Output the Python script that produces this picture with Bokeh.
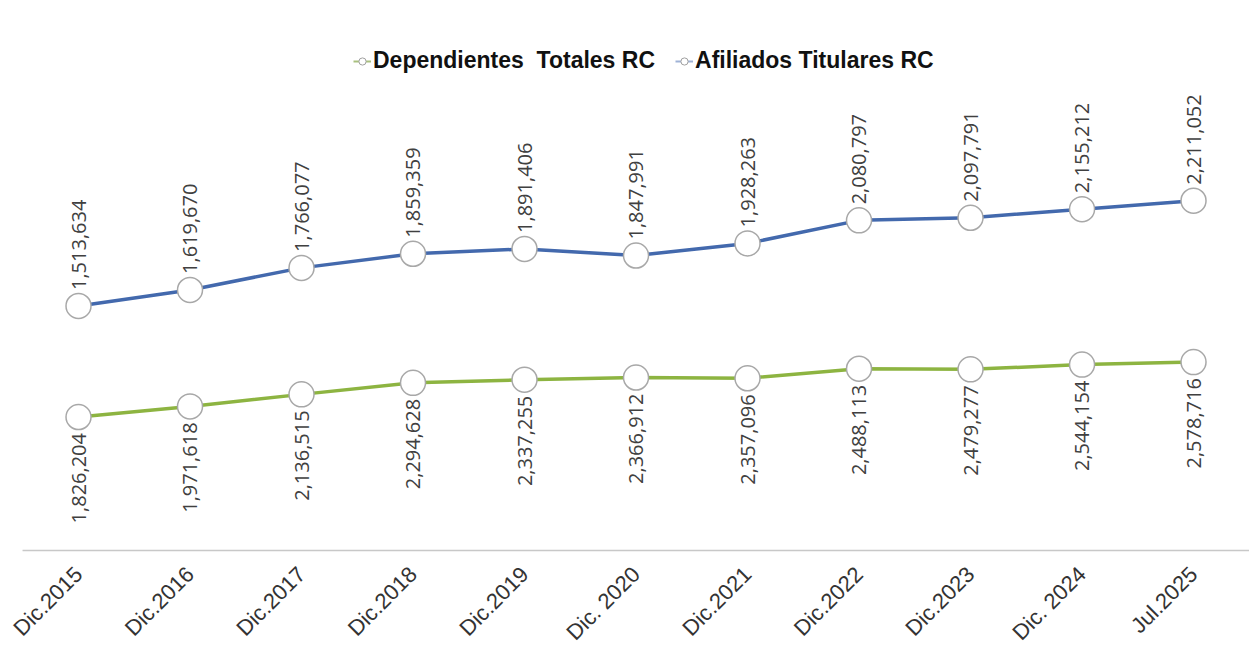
from math import pi
from bokeh.plotting import figure
from bokeh.models import (ColumnDataSource, Range1d, FixedTicker, Legend, LegendItem)
from bokeh.core.properties import value
from bokeh.embed import file_html
from bokeh.resources import INLINE

# ---- data ----
periods = ["Dic.2015", "Dic.2016", "Dic.2017", "Dic.2018", "Dic.2019", "Dic. 2020",
           "Dic.2021", "Dic.2022", "Dic.2023", "Dic. 2024", "Jul.2025"]
titulares = [1513634, 1619670, 1766077, 1859359, 1891406, 1847991,
             1928263, 2080797, 2097791, 2155212, 2211052]
dependientes = [1826204, 1971618, 2136515, 2294628, 2337255, 2366912,
                2357096, 2488113, 2479277, 2544154, 2578716]
series_names = ["Dependientes  Totales RC", "Afiliados Titulares RC"]

idx = list(range(len(periods)))
fmt = lambda v: f"{v:,}"

src_t = ColumnDataSource(dict(x=idx, y=titulares, lab=[fmt(v) for v in titulares]))
src_d = ColumnDataSource(dict(x=idx, y=dependientes, lab=[fmt(v) for v in dependientes]))

BLUE = "#4369ad"
GREEN = "#8db441"
LABEL_COLOR = "#404040"

XR = Range1d(-0.6996, 10.502)
YB = Range1d(-741888, 3338496)    # scale of Afiliados Titulares
YG = Range1d(-1318132, 7122300)   # scale of Dependientes
AXIS_BASE = -105984               # where the category axis sits (on the YB scale)
AXIS_X0, AXIS_X1 = -0.502, 10.502 # horizontal extent of the axis rule

p = figure(width=1249, height=646, output_backend="svg", toolbar_location=None,
           x_range=XR, y_range=YB,
           y_axis_location=None, min_border_left=0, min_border_right=0,
           min_border_top=30, min_border_bottom=0)
p.extra_y_ranges = {"g": YG}
p.outline_line_color = None
p.background_fill_color = "white"
p.border_fill_color = "white"
p.xgrid.visible = False
p.ygrid.visible = False

# category axis (labels only; its rule is drawn below with the chart's extent)
ax = p.xaxis[0]
ax.fixed_location = AXIS_BASE
ax.ticker = FixedTicker(ticks=idx)
ax.major_label_overrides = {i: s for i, s in zip(idx, periods)}
ax.major_label_orientation = pi / 4
ax.major_label_text_font = "Liberation Sans"
ax.major_label_text_font_size = "22px"
ax.major_label_text_color = "#333333"
ax.major_label_standoff = 14
ax.major_tick_line_color = None
ax.minor_tick_line_color = None
ax.axis_line_color = None

p.segment(x0=[AXIS_X0], y0=[AXIS_BASE], x1=[AXIS_X1], y1=[AXIS_BASE],
          line_color="#c8c8c8", line_width=1.5)

# lines
p.line("x", "y", source=src_t, line_color=BLUE, line_width=3.5)
p.line("x", "y", source=src_d, line_color=GREEN, line_width=3.5, y_range_name="g")

p.scatter("x", "y", source=src_t, size=25, fill_color="white",
          line_color="#a8a8a8", line_width=1.5)
p.scatter("x", "y", source=src_d, size=25, fill_color="white",
          line_color="#a8a8a8", line_width=1.5, y_range_name="g")

# data labels
p.text("x", "y", text="lab", source=src_t, angle=pi / 2, text_align="left",
       text_baseline="middle", y_offset=-16, text_font=value("Open Sans"),
       text_font_size="20px", text_color=LABEL_COLOR)
p.text("x", "y", text="lab", source=src_d, angle=pi / 2, text_align="right",
       text_baseline="middle", y_offset=16, text_font=value("Open Sans"),
       text_font_size="20px", text_color=LABEL_COLOR, y_range_name="g")

# legend (dummy renderers outside the visible range, for small icons)
lg_line_d = p.line(x=[-100, -99], y=[-1e9, -1e9], line_color="#a9c07e", line_width=2)
lg_dot_d = p.scatter(x=[-100], y=[-1e9], size=9, fill_color="white", line_color="#a0a0a0")
lg_line_t = p.line(x=[-100, -99], y=[-1e9, -1e9], line_color="#9fb2d6", line_width=2)
lg_dot_t = p.scatter(x=[-100], y=[-1e9], size=9, fill_color="white", line_color="#a0a0a0")

legend = Legend(items=[LegendItem(label=series_names[0], renderers=[lg_line_d, lg_dot_d]),
                       LegendItem(label=series_names[1], renderers=[lg_line_t, lg_dot_t])],
                orientation="horizontal", location=(353, 572))
legend.label_text_font = "Liberation Sans"
legend.label_text_font_style = "bold"
legend.label_text_font_size = "23px"
legend.label_text_color = "#111111"
legend.glyph_width = 18
legend.glyph_height = 20
legend.label_standoff = 2
legend.spacing = 20
legend.padding = 0
legend.margin = 0
legend.border_line_color = None
legend.background_fill_alpha = 0
p.add_layout(legend, "center")

open("out.html", "w").write(file_html(p, INLINE))
